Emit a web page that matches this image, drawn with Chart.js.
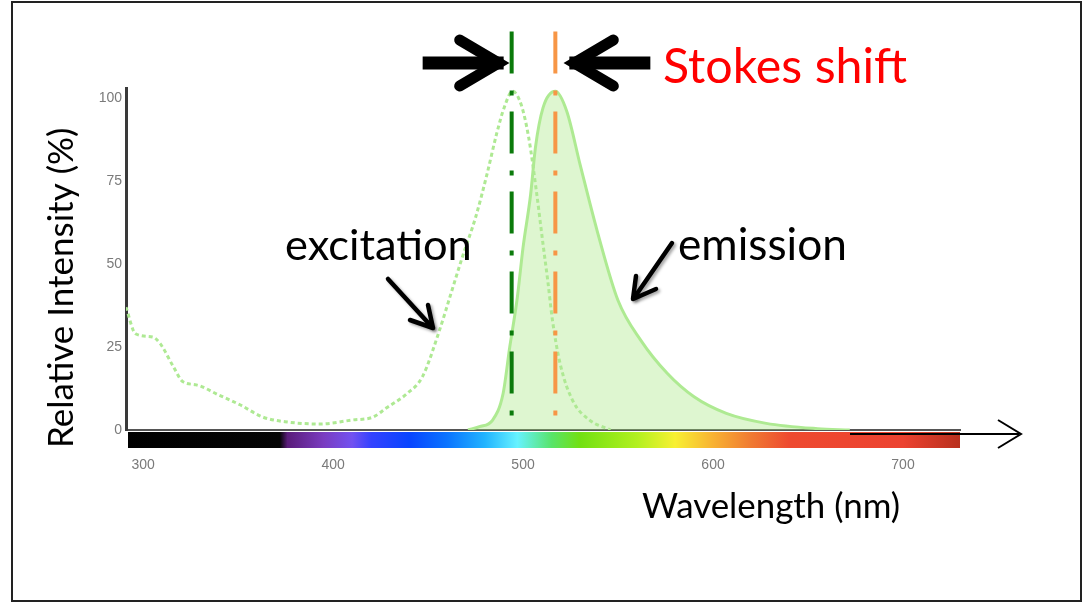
<!DOCTYPE html>
<html>
<head>
<meta charset="utf-8">
<script src="https://cdn.jsdelivr.net/npm/chart.js@4.4.0/dist/chart.umd.min.js"></script>
<style>
  html, body { margin: 0; padding: 0; background: #fff; }
  canvas { display: block; }
</style>
</head>
<body>
<canvas id="chart" width="1083" height="602"></canvas>
<script>
// axis ranges + ticks
const X_MIN = 291, X_MAX = 730;
const Y_MIN = 0, Y_MAX = 103;
const xTicks = [300, 400, 500, 600, 700];
const yTicks = [0, 25, 50, 75, 100];

// excitation spectrum (dotted)
const excitationNm  = [291, 296, 305, 309, 316, 321, 328, 340, 351, 363, 376, 393, 410, 421, 428, 439, 447, 456, 462, 468, 475, 481, 486, 490, 494.5, 499, 503, 507, 510.5, 513, 515.5, 519.5, 526, 535, 546];
const excitationVal = [37, 29, 28, 26, 19, 14.5, 13.6, 10.5, 7.6, 3.9, 2.4, 1.8, 3, 3.9, 6.6, 11, 16, 30, 41, 52, 64, 77, 89, 97, 102, 98, 88, 72, 56, 45, 33, 20, 9, 3, 0];

// emission spectrum (filled)
const emissionNm  = [471, 477, 484, 489.5, 493, 497, 500, 504, 506.5, 510.5, 517, 523, 530, 539, 550, 562, 576, 590, 607, 628, 655, 672];
const emissionVal = [0, 1, 3, 11, 25, 40, 55, 71, 85, 97, 102, 96, 80, 60, 39, 27, 17, 10, 5, 2, 0.4, 0];

// peak markers (dash-dot lines), top value first
const excitationPeakNm = 494;
const emissionPeakNm = 517;
const markerSpan = [120, 4];

// visible spectrum strip under the axis
const spectrumNm     = [291, 372, 376, 395, 410, 420, 440, 460, 480, 497, 515, 530, 560, 580, 600, 620, 640, 700, 730];
const spectrumColors = ['#000000', '#050505', '#5a1c7a', '#7a3cc0', '#7252f0', '#3442ff', '#0844ff', '#0a74ff', '#22b4ff', '#66f2ff', '#58e46a', '#72e012', '#b2f020', '#f8f032', '#f8b232', '#f07a32', '#ee4a30', '#ec4230', '#b8301e'];

const pts = (xs, ys) => xs.map((x, i) => ({ x, y: ys[i] }));

function fitFont(ctx, text, width, family){
  ctx.font = '100px ' + family;
  const size = 100 * width / ctx.measureText(text).width;
  ctx.font = size.toFixed(1) + 'px ' + family;
}

function line(ctx, p){
  ctx.beginPath();
  ctx.moveTo(p[0][0], p[0][1]);
  for(let i = 1; i < p.length; i++) ctx.lineTo(p[i][0], p[i][1]);
  ctx.stroke();
}

const decor = {
  id: 'decor',
  beforeDraw(chart){
    const { ctx, chartArea: a, scales: { x } } = chart;
    ctx.save();
    ctx.fillStyle = '#fff';
    ctx.fillRect(0, 0, chart.width, chart.height);
    // spectrum bar
    const x0 = x.getPixelForValue(X_MIN), x1 = x.getPixelForValue(X_MAX);
    const g = ctx.createLinearGradient(x0, 0, x1, 0);
    spectrumNm.forEach((nm, i) => g.addColorStop((nm - X_MIN) / (X_MAX - X_MIN), spectrumColors[i]));
    ctx.fillStyle = g;
    ctx.fillRect(x0 + 2, a.bottom + 2, x1 - x0 - 2, 16);
    ctx.restore();
  },
  afterDraw(chart){
    const { ctx, scales: { x } } = chart;
    ctx.save();
    ctx.textBaseline = 'alphabetic';
    ctx.textAlign = 'left';
    ctx.fillStyle = '#000';

    fitFont(ctx, 'excitation', 187, 'Lato');
    ctx.fillText('excitation', 285, 260);
    fitFont(ctx, 'emission', 169, 'Lato');
    ctx.fillText('emission', 678, 260);
    fitFont(ctx, 'Wavelength (nm)', 258, 'Lato');
    ctx.fillText('Wavelength (nm)', 642, 518);

    ctx.save();
    ctx.translate(73, 448);
    ctx.rotate(-Math.PI / 2);
    fitFont(ctx, 'Relative Intensity (%)', 320, 'Lato');
    ctx.fillText('Relative Intensity (%)', 0, 0);
    ctx.restore();

    ctx.fillStyle = '#ff0000';
    fitFont(ctx, 'Stokes shift', 244, 'Lato');
    ctx.fillText('Stokes shift', 663, 83);

    // big arrows pointing at the two peaks
    const ex = x.getPixelForValue(excitationPeakNm) - 2;
    const em = x.getPixelForValue(emissionPeakNm) + 8;
    ctx.strokeStyle = '#000';
    ctx.lineCap = 'butt';
    ctx.lineWidth = 13;
    line(ctx, [[ex - 87, 63], [ex - 6, 63]]);
    line(ctx, [[em + 6, 63], [em + 87, 63]]);
    ctx.lineWidth = 11;
    ctx.lineJoin = 'miter';
    ctx.lineCap = 'round';
    line(ctx, [[ex - 50, 40], [ex - 11, 63], [ex - 50, 86]]);
    line(ctx, [[em + 50, 40], [em + 11, 63], [em + 50, 86]]);

    // pointer arrows with a soft shadow
    ctx.save();
    ctx.shadowColor = 'rgba(0,0,0,0.35)';
    ctx.shadowBlur = 3;
    ctx.shadowOffsetX = 2;
    ctx.shadowOffsetY = 2;
    ctx.lineWidth = 4.5;
    ctx.lineJoin = 'round';
    line(ctx, [[388, 279], [432, 327]]);
    line(ctx, [[410, 320], [433, 328], [428, 305]]);
    line(ctx, [[672, 243], [634, 298]]);
    line(ctx, [[636, 276], [633, 299], [656, 289]]);
    ctx.restore();

    // axis arrow
    ctx.lineWidth = 2;
    ctx.lineCap = 'butt';
    line(ctx, [[850, 434], [1019, 434]]);
    line(ctx, [[998, 420], [1021, 434], [998, 448]]);

    // frame
    ctx.strokeStyle = '#222';
    ctx.strokeRect(12, 2, 1069, 599);
    ctx.restore();
  }
};

const ctx = document.getElementById('chart').getContext('2d');
const chart = new Chart(ctx, {
  type: 'line',
  data: {
    datasets: [
      {
        label: 'excitation peak',
        data: pts([excitationPeakNm, excitationPeakNm], markerSpan),
        borderColor: '#0b7a0b', borderWidth: 4, borderDash: [42, 17, 5, 16],
        pointRadius: 0, fill: false, clip: false
      },
      {
        label: 'emission peak',
        data: pts([emissionPeakNm, emissionPeakNm], markerSpan),
        borderColor: '#f79646', borderWidth: 4, borderDash: [42, 17, 5, 16],
        pointRadius: 0, fill: false, clip: false
      },
      {
        label: 'excitation',
        data: pts(excitationNm, excitationVal),
        borderColor: '#aee993', borderWidth: 3, borderDash: [4, 3],
        pointRadius: 0, fill: false, cubicInterpolationMode: 'monotone'
      },
      {
        label: 'emission',
        data: pts(emissionNm, emissionVal),
        borderColor: '#aeea92', borderWidth: 3,
        backgroundColor: 'rgba(160,230,120,0.35)', fill: 'origin',
        pointRadius: 0, cubicInterpolationMode: 'monotone'
      }
    ]
  },
  options: {
    responsive: false,
    animation: false,
    layout: { padding: { left: 0, right: 123, top: 88, bottom: 0 } },
    plugins: { legend: { display: false }, tooltip: { enabled: false } },
    scales: {
      x: {
        type: 'linear', min: X_MIN, max: X_MAX,
        grid: { display: false, drawTicks: false },
        border: { color: '#555', width: 2 },
        ticks: { padding: 27, color: '#7a7a7a', font: { family: 'Arial', size: 14 } },
        afterBuildTicks: s => { s.ticks = xTicks.map(v => ({ value: v })); },
        afterFit: s => { s.height = 172; }
      },
      y: {
        min: Y_MIN, max: Y_MAX,
        grid: { display: false, drawTicks: false },
        border: { color: '#3a3a3a', width: 3 },
        ticks: { padding: 4, color: '#7a7a7a', font: { family: 'Arial', size: 14 } },
        afterBuildTicks: s => { s.ticks = yTicks.map(v => ({ value: v })); },
        afterFit: s => { s.width = 126; }
      }
    }
  },
  plugins: [decor]
});
</script>
</body>
</html>
